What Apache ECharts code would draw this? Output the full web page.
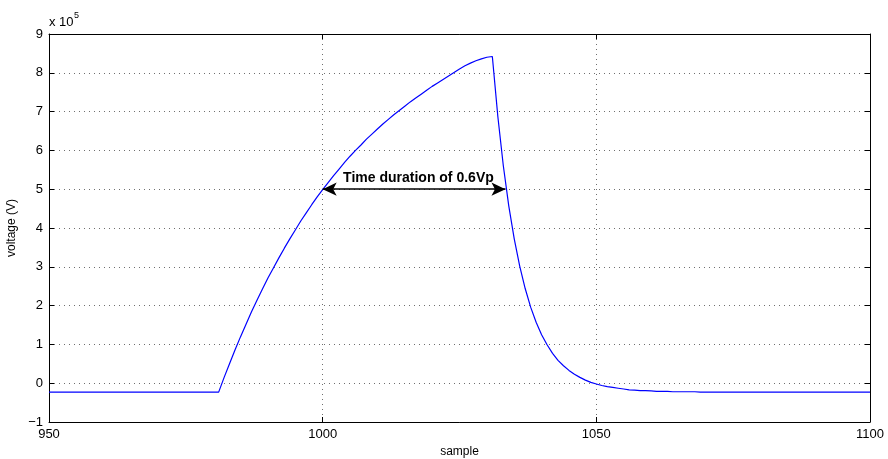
<!DOCTYPE html>
<html>
<head>
<meta charset="utf-8">
<script src="https://cdn.jsdelivr.net/npm/echarts@6/dist/echarts.min.js"></script>
<style>
  html, body { margin: 0; padding: 0; background: #fff; }
  #chart { width: 888px; height: 459px; }
</style>
</head>
<body>
<div id="chart"></div>
<script>
// Impulse voltage record, values in units of 10^5 V
const samples = [950,
  981, 982, 983, 984, 985, 986, 987, 988, 989, 990,
  991, 992, 993, 994, 995, 996, 997, 998, 999, 1000,
  1001, 1002, 1003, 1004, 1005, 1006, 1007, 1008, 1009, 1010,
  1011, 1012, 1013, 1014, 1015, 1016, 1017, 1018, 1019, 1020,
  1021, 1022, 1023, 1024, 1025, 1026, 1027, 1028, 1029, 1030,
  1031, 1032, 1033, 1034, 1035, 1036, 1037, 1038, 1039, 1040,
  1041, 1042, 1043, 1044, 1045, 1046, 1047, 1048, 1049, 1050,
  1051, 1052, 1053, 1054, 1055, 1056, 1057, 1058, 1059, 1060,
  1061, 1062, 1063, 1064, 1065, 1066, 1067, 1068, 1069, 1070,
  1100];
const voltage = [-0.23,
  -0.23, 0.15, 0.51, 0.86, 1.20, 1.52, 1.84, 2.14, 2.43, 2.71,
  2.97, 3.23, 3.48, 3.72, 3.95, 4.18, 4.39, 4.60, 4.80, 4.99,
  5.17, 5.35, 5.52, 5.69, 5.85, 6.00, 6.14, 6.29, 6.42, 6.55,
  6.68, 6.80, 6.92, 7.03, 7.14, 7.25, 7.35, 7.45, 7.55, 7.65,
  7.74, 7.83, 7.92, 8.01, 8.10, 8.18, 8.25, 8.31, 8.36, 8.40,
  8.42, 6.88, 5.61, 4.57, 3.72, 3.02, 2.44, 1.96, 1.57, 1.25,
  0.99, 0.77, 0.59, 0.45, 0.33, 0.23, 0.15, 0.08, 0.02, -0.02,
  -0.06, -0.09, -0.11, -0.13, -0.15, -0.17, -0.18, -0.19, -0.19, -0.20,
  -0.21, -0.21, -0.21, -0.22, -0.22, -0.22, -0.22, -0.22, -0.23, -0.23,
  -0.23];

// Duration span measured at 0.6 Vp
const spanStart = 1000;
const spanEnd = 1033.4;
const spanLevel = 5.0;
const spanText = 'Time duration of 0.6Vp';
const spanTextAt = [1017.5, 5.0];

const xTicks = { min: 950, max: 1100, interval: 50 };
const yTicks = { min: -1, max: 9, interval: 1 };

const font = 'Liberation Sans, Arial, Helvetica, sans-serif';
const seriesData = samples.map((s, i) => [s, voltage[i]]);

const gridDots = { show: true, lineStyle: { color: '#6f6f6f', width: 1, type: [1, 4] } };
const frame = { show: true, onZero: false, lineStyle: { color: '#000', width: 1 } };
const inTick = { show: true, inside: true, length: 5, lineStyle: { color: '#000' } };

const chart = echarts.init(document.getElementById('chart'), null, { renderer: 'canvas' });
chart.setOption({
  animation: false,
  backgroundColor: '#fff',
  grid: { left: 49, right: 18, top: 34, bottom: 37, containLabel: false, outerBoundsMode: 'none' },
  xAxis: [{
    type: 'value', position: 'bottom',
    min: xTicks.min, max: xTicks.max, interval: xTicks.interval,
    name: 'sample', nameLocation: 'middle', nameGap: 21,
    nameTextStyle: { color: '#000', fontFamily: font, fontSize: 12 },
    axisLine: frame, axisTick: inTick, splitLine: gridDots,
    axisLabel: { color: '#000', fontFamily: font, fontSize: 13, margin: 6, formatter: v => String(v) }
  }, {
    type: 'value', position: 'top',
    min: xTicks.min, max: xTicks.max, interval: xTicks.interval,
    axisLine: frame, axisTick: inTick, splitLine: { show: false },
    axisLabel: { show: false }
  }],
  yAxis: [{
    type: 'value', position: 'left',
    min: yTicks.min, max: yTicks.max, interval: yTicks.interval,
    name: 'voltage (V)', nameLocation: 'middle', nameGap: 25,
    nameTextStyle: { color: '#000', fontFamily: font, fontSize: 12 },
    axisLine: frame, axisTick: inTick, splitLine: gridDots,
    axisLabel: {
      color: '#000', fontFamily: font, fontSize: 13, margin: 6,
      formatter: v => (v < 0 ? '\u2212' + Math.abs(v) : String(v))
    }
  }, {
    type: 'value', position: 'right',
    min: yTicks.min, max: yTicks.max, interval: yTicks.interval,
    axisLine: frame, axisTick: inTick, splitLine: { show: false },
    axisLabel: { show: false }
  }],
  graphic: [
    { type: 'text', left: 49, top: 16, style: { text: 'x 10', fill: '#000', font: '13px ' + font } },
    { type: 'text', left: 74, top: 11, style: { text: '5', fill: '#000', font: '9px ' + font } }
  ],
  series: [{
    type: 'line',
    data: seriesData,
    showSymbol: false,
    symbol: 'none',
    lineStyle: { color: '#0000ff', width: 1.2 },
    markLine: {
      silent: true,
      symbol: ['arrow', 'arrow'],
      symbolSize: [10, 14],
      label: { show: false },
      lineStyle: { color: '#000', width: 1.5, type: 'solid' },
      data: [[{ coord: [spanStart, spanLevel] }, { coord: [spanEnd, spanLevel] }]]
    },
    markPoint: {
      silent: true,
      symbol: 'circle',
      symbolSize: 0,
      data: [{ coord: spanTextAt, value: spanText }],
      label: {
        show: true, position: 'top', distance: 4,
        formatter: spanText,
        color: '#000', fontFamily: font, fontSize: 14, fontWeight: 'bold'
      }
    }
  }]
});
</script>
</body>
</html>
